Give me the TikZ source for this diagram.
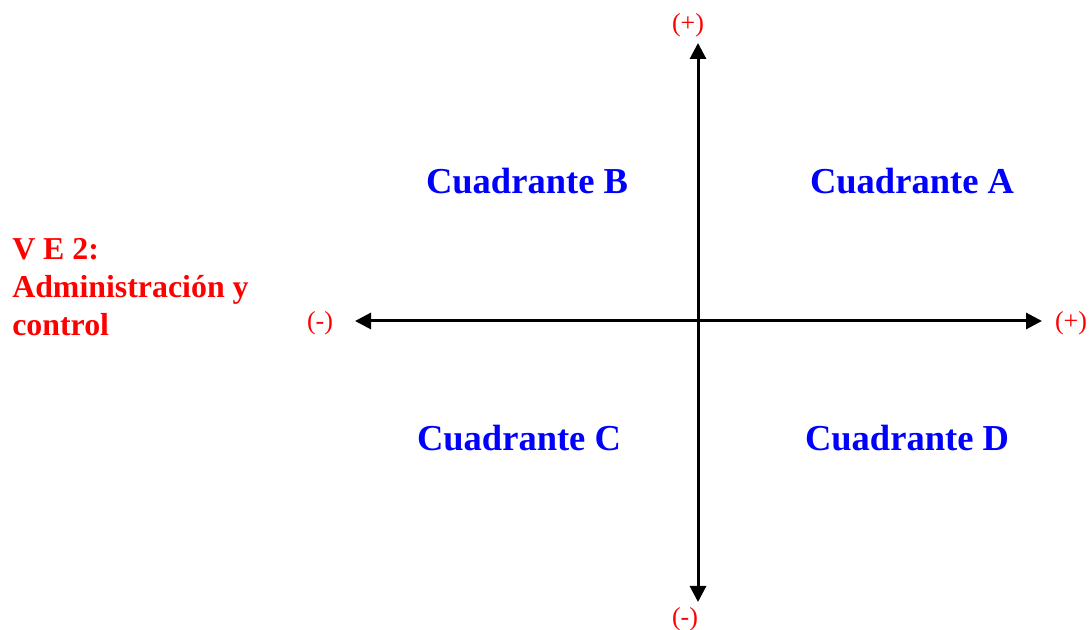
\documentclass[tikz,border=0pt]{standalone}
\usepackage{fontspec}
\setmainfont{Liberation Serif}
\usetikzlibrary{arrows.meta}
\tikzset{axis/.style={line width=2.25pt,{Triangle[length=12pt,width=12pt]}-{Triangle[length=12pt,width=12pt]}},
  quad/.style={text=blue,font=\fontsize{27.4}{32}\selectfont\bfseries},
  sign/.style={text=red,font=\fontsize{19.5}{22}\selectfont,inner sep=0pt}}

\begin{document}
\begin{tikzpicture}[x=0.75pt,y=-0.75pt]
  \useasboundingbox (0,0) rectangle (1089,630);
  % axis ends
  \coordinate (west) at (355,321);
  \coordinate (east) at (1042,321);
  \coordinate (north) at (698,43);
  \coordinate (south) at (698,602);
  \draw[axis] (west) -- (east);
  \draw[axis] (south) -- (north);
  % signs
  \node[sign] (pn) at (688,25) {(+)};
  \node[sign] (ms) at (685,619) {(-)};
  \node[sign] (mw) at (320,323) {(-)};
  \node[sign] (pe) at (1071,323) {(+)};
  % quadrants
  \node[quad] (qa) at (912,181) {Cuadrante A};
  \node[quad] (qb) at (527,181) {Cuadrante B};
  \node[quad] (qc) at (519,438) {Cuadrante C};
  \node[quad] (qd) at (907,438) {Cuadrante D};
  % variable label
  \node[text=red, anchor=north west, align=left, inner sep=0pt,
    font=\fontsize{23.9}{28.5}\selectfont\bfseries] (ve) at (12,238)
    {V E 2:\\Administración y\\control};
\end{tikzpicture}
\end{document}
